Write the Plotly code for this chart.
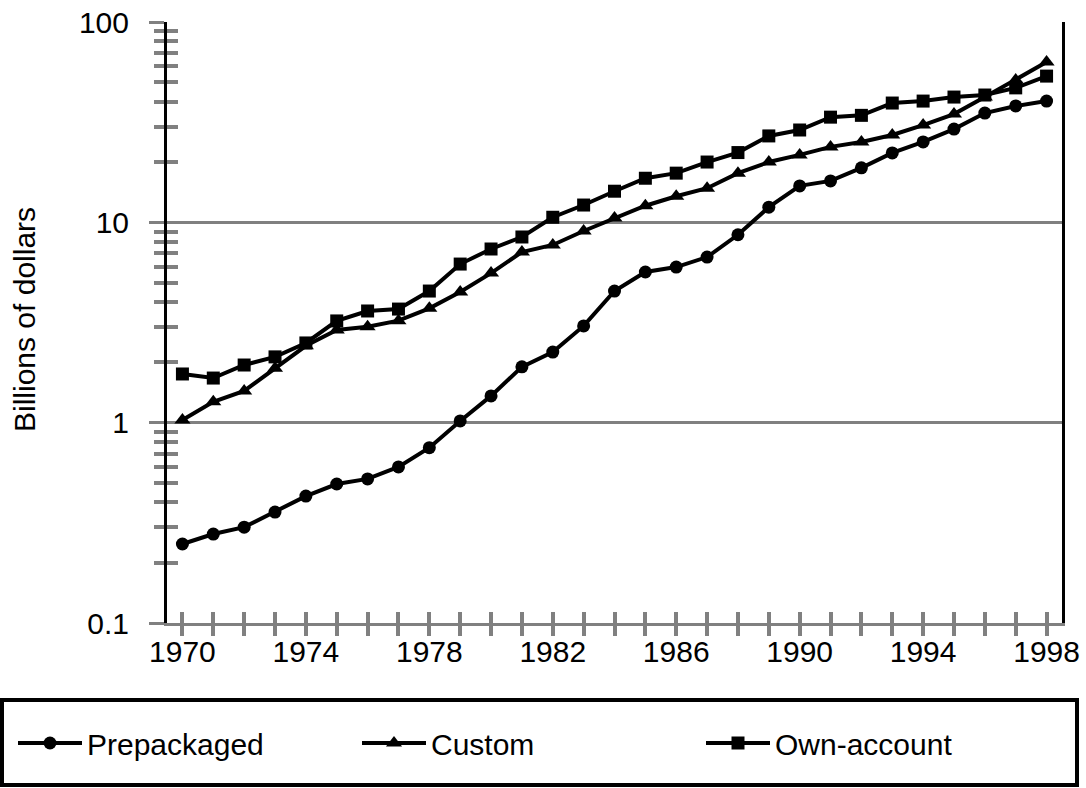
import plotly.graph_objects as go

years = list(range(1970, 1999))
prepackaged = [0.248, 0.278, 0.301, 0.358, 0.43, 0.494, 0.524, 0.601, 0.75, 1.02,
               1.36, 1.90, 2.25, 3.04, 4.54, 5.65, 5.98, 6.71, 8.67, 11.9,
               15.2, 16.1, 18.7, 22.2, 25.2, 29.2, 35.1, 38.1, 40.3]
custom = [1.03, 1.27, 1.44, 1.87, 2.42, 2.90, 3.01, 3.23, 3.72, 4.49,
          5.58, 7.11, 7.71, 9.05, 10.5, 12.1, 13.5, 14.8, 17.6, 20.0,
          21.7, 23.8, 25.2, 27.3, 30.6, 34.7, 42.2, 51.3, 63.1]
own_account = [1.75, 1.67, 1.94, 2.13, 2.50, 3.22, 3.61, 3.69, 4.54, 6.19,
               7.36, 8.45, 10.6, 12.2, 14.3, 16.6, 17.6, 20.0, 22.3, 27.0,
               28.9, 33.5, 34.2, 39.4, 40.3, 42.2, 43.2, 46.9, 53.7]

series = [("Prepackaged", prepackaged, "circle", 13),
          ("Custom", custom, "triangle-up", 14),
          ("Own-account", own_account, "square", 13)]

x_labels = [str(y) if (y - 1970) % 4 == 0 else "" for y in years]
y_major = [0.1, 1, 10, 100]
y_major_text = ["0.1", "1", "10", "100"]
y_minor = [m * 10 ** e for e in (-1, 0, 1) for m in range(2, 10)]

GRAY = "#808080"
FONT = "Liberation Sans, Arial, sans-serif"
FS = 30
FW, FH = 1086, 788

fig = go.Figure()
for name, vals, sym, sz in series:
    fig.add_trace(go.Scatter(
        x=years, y=vals, name=name, mode="lines+markers",
        line=dict(color="black", width=4),
        marker=dict(symbol=sym, size=sz, color="black"),
    ))
# invisible helper trace so the overlay axes (inside tick marks) get drawn
fig.add_trace(go.Scatter(x=years, y=prepackaged, xaxis="x2", yaxis="y2",
                         mode="none", showlegend=False, hoverinfo="skip"))

# plot area pixel geometry
L, R, T, B = 167, 1062, 22, 623
W, H = R - L, B - T
def px(xp):
    return (xp - L) / W
def py(yp):
    return (B - yp) / H

XR = [1969.5, 1998.5]
YR = [-1, 2]

fig.update_layout(
    width=FW, height=FH,
    margin=dict(l=L, r=FW - R, t=T, b=FH - B, autoexpand=False),
    plot_bgcolor="white", paper_bgcolor="white",
    font=dict(family=FONT, size=FS, color="black"),
    showlegend=True,
    legend=dict(orientation="h", x=px(13), y=py(743), xanchor="left", yanchor="middle",
                entrywidth=265, entrywidthmode="pixels", itemwidth=64,
                font=dict(family=FONT, size=FS, color="black"),
                bgcolor="rgba(0,0,0,0)", borderwidth=0),
    xaxis=dict(range=XR, tickvals=years, ticktext=x_labels,
               ticks="outside", ticklen=10, tickwidth=4, tickcolor=GRAY,
               ticklabelstandoff=-10,
               showline=True, linecolor=GRAY, linewidth=3, mirror=False,
               showgrid=False, zeroline=False,
               tickfont=dict(family=FONT, size=FS, color="black")),
    xaxis2=dict(overlaying="x", anchor="y2", range=XR, tickvals=years,
                ticks="inside", ticklen=11, tickwidth=4, tickcolor=GRAY,
                showticklabels=False, showgrid=False, showline=False, zeroline=False),
    yaxis=dict(type="log", range=YR, tickvals=y_major, ticktext=y_major_text,
               ticks="outside", ticklen=15, tickwidth=3, tickcolor=GRAY,
               ticklabelstandoff=14,
               minor=dict(tickvals=y_minor, ticks="outside", ticklen=10, tickwidth=4,
                          tickcolor=GRAY, showgrid=False),
               showgrid=True, gridcolor=GRAY, gridwidth=3,
               showline=True, linecolor="black", linewidth=3, mirror=True,
               zeroline=False,
               tickfont=dict(family=FONT, size=FS, color="black")),
    yaxis2=dict(overlaying="y", anchor="x2", type="log", range=YR, tickvals=y_minor,
                ticks="inside", ticklen=11, tickwidth=4, tickcolor=GRAY,
                showticklabels=False, showgrid=False, showline=False, zeroline=False),
    annotations=[dict(text="Billions of dollars", textangle=-90, xref="paper", yref="paper",
                      x=px(24), y=py(320), xanchor="center", yanchor="middle",
                      showarrow=False,
                      font=dict(family=FONT, size=FS, color="black"))],
    shapes=[dict(type="rect", xref="paper", yref="paper",
                 x0=px(2), x1=px(1077), y0=py(700), y1=py(785),
                 line=dict(color="black", width=4), fillcolor="rgba(0,0,0,0)")],
)

fig.write_html("out.html", config={"displayModeBar": False},
               post_script="document.body.style.margin='0px';document.body.style.overflow='hidden';")
